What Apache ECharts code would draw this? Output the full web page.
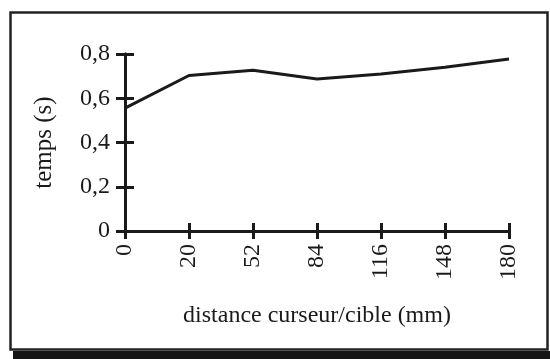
<!DOCTYPE html>
<html><head><meta charset="utf-8">
<script src="https://cdn.jsdelivr.net/npm/echarts@6/dist/echarts.min.js"></script>
<style>html,body{margin:0;padding:0;background:#fff}#c{width:550px;height:359px}</style>
</head><body><div id="c"></div>
<script>
var categories = ["0","20","52","84","116","148","180"];
var tempsValues = [0.555, 0.703, 0.727, 0.687, 0.71, 0.74, 0.777];
var yTicks = [0, 0.2, 0.4, 0.6, 0.8];
var xName = "distance curseur/cible (mm)";
var yName = "temps (s)";

var font = "Liberation Serif";
var ink = "#1a1a1a";
var chart = echarts.init(document.getElementById('c'), null, {renderer:'canvas'});
function fmt(v){ return String(Math.round(v*10)/10).replace('.', ','); }
var baseY = {
  type:'value', min:yTicks[0], max:yTicks[yTicks.length-1], interval:0.2,
  splitLine:{show:false},
  axisLine:{show:true, lineStyle:{color:ink, width:3}},
  axisTick:{show:true, length:9, lineStyle:{color:ink, width:3}}
};
var baseX = {
  type:'category', data:categories, boundaryGap:false,
  axisLine:{show:true, lineStyle:{color:ink, width:3}},
  axisTick:{show:true, length:8, alignWithLabel:true, lineStyle:{color:ink, width:3}},
  splitLine:{show:false}
};
chart.setOption({
  animation:false,
  grid:{left:125, right:41, top:54, bottom:128, containLabel:false},
  xAxis:[
    Object.assign({}, baseX, {
      name:xName, nameLocation:'middle', nameGap:73,
      nameTextStyle:{fontFamily:font, fontSize:24, color:ink},
      axisLabel:{rotate:90, margin:13, fontFamily:font, fontSize:24, color:ink, interval:0}
    }),
    Object.assign({}, baseX, {position:'bottom', axisTick:Object.assign({}, baseX.axisTick, {inside:true}), axisLabel:{show:false}})
  ],
  yAxis:[
    Object.assign({}, baseY, {
      name:yName, nameLocation:'middle', nameGap:68,
      nameTextStyle:{fontFamily:font, fontSize:25, color:ink},
      axisLabel:{margin:15, fontFamily:font, fontSize:24, color:ink, formatter:fmt}
    }),
    Object.assign({}, baseY, {position:'left', axisTick:Object.assign({}, baseY.axisTick, {inside:true}), axisLabel:{show:false}})
  ],
  series:[{
    type:'line', data:tempsValues, xAxisIndex:0, yAxisIndex:0,
    symbol:'none', lineStyle:{color:ink, width:3}, z:5
  }],
  graphic:[
    {type:'rect', shape:{x:10.5, y:12.5, width:537, height:337}, style:{fill:null, stroke:'#222', lineWidth:2.5}, silent:true},
    {type:'rect', shape:{x:13, y:351, width:537, height:8}, style:{fill:'#151515'}, silent:true}
  ]
});
</script></body></html>
